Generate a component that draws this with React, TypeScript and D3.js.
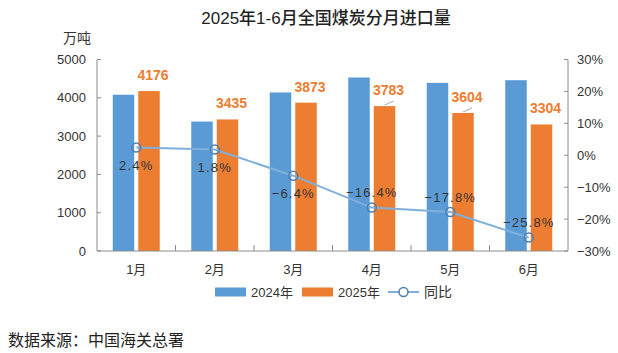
import * as d3 from 'd3';

const months = ['1月', '2月', '3月', '4月', '5月', '6月'];
const imports2024 = [4080, 3380, 4140, 4530, 4390, 4460];
const imports2025 = [4176, 3435, 3873, 3783, 3604, 3304];
const yoy = [2.4, 1.8, -6.4, -16.4, -17.8, -25.8];
const leftTicks = [0, 1000, 2000, 3000, 4000, 5000];
const rightTicks = [-30, -20, -10, 0, 10, 20, 30];
const seriesNames = ['2024年', '2025年'];

const W = 618;
const H = 353;
const BLUE = '#5b9bd5';
const ORANGE = '#ed7d31';
const LINE = '#7fb0dc';
const MARK = '#4f7fb0';
const AXIS = '#8c8c8c';
const FONT = '"Liberation Sans", "Noto Sans CJK SC", sans-serif';

// minus sign as in the original labels
const pct = (v: number) => `${v < 0 ? '−' : ''}${Math.abs(v)}%`;

export default function App() {
    const plot = { left: 97, right: 568, top: 59.5, bottom: 251 };

    const x = d3.scaleBand<string>().domain(months).range([plot.left, plot.right]).padding(0);
    const bw = x.bandwidth();
    const x1 = d3
        .scaleBand<string>()
        .domain(seriesNames)
        .range([bw / 2 - 23.5, bw / 2 + 23.5])
        .paddingInner(0.157);
    const y = d3.scaleLinear().domain([0, 5000]).range([plot.bottom, plot.top]);
    const y2 = d3.scaleLinear().domain([-30, 30]).range([plot.bottom, plot.top]);

    const cx = (m: string) => (x(m) ?? 0) + bw / 2;
    const line = d3
        .line<number>()
        .x((_, i) => cx(months[i]))
        .y((d) => y2(d));

    const series = [imports2024, imports2025];
    const colors = [BLUE, ORANGE];

    return (
        <svg
            width={W}
            height={H}
            style={{ position: 'absolute', left: 0, top: 0, background: '#fff' }}
            fontFamily={FONT}
        >
            <text x={326} y={24} textAnchor="middle" fontSize={17} fontWeight={500} fill="#222">
                2025年1-6月全国煤炭分月进口量
            </text>
            <text x={77} y={43} textAnchor="middle" fontSize={14} fill="#333">
                万吨
            </text>

            {/* bars */}
            {series.map((vals, si) =>
                vals.map((v, i) => (
                    <rect
                        key={`${si}-${i}`}
                        x={(x(months[i]) ?? 0) + (x1(seriesNames[si]) ?? 0)}
                        y={y(v)}
                        width={x1.bandwidth()}
                        height={plot.bottom - y(v)}
                        fill={colors[si]}
                    />
                )),
            )}

            {/* 2025 value labels */}
            {imports2025.map((v, i) => {
                const bx = (x(months[i]) ?? 0) + (x1(seriesNames[1]) ?? 0) + x1.bandwidth() / 2;
                return (
                    <g key={`l${i}`}>
                        {v < 3800 && v > 3500 && (
                            <line x1={bx} x2={bx + 9} y1={y(v) - 1} y2={y(v) - 5} stroke="#aaa" />
                        )}
                        <text x={bx + 4} y={y(v) - 11} textAnchor="middle" fontSize={14} fontWeight={700} fill={ORANGE}>
                            {v}
                        </text>
                    </g>
                );
            })}

            {/* axes */}
            <line x1={plot.left} x2={plot.left} y1={plot.top} y2={plot.bottom} stroke={AXIS} />
            <line x1={plot.right} x2={plot.right} y1={plot.top} y2={plot.bottom} stroke={AXIS} />
            <line x1={plot.left} x2={plot.right} y1={plot.bottom} y2={plot.bottom} stroke={AXIS} />
            {leftTicks.map((t) => (
                <g key={`lt${t}`}>
                    <line x1={plot.left} x2={plot.left + 4} y1={y(t)} y2={y(t)} stroke={AXIS} />
                    <text x={86} y={y(t)} dy="0.35em" textAnchor="end" fontSize={13} fill="#333">
                        {t}
                    </text>
                </g>
            ))}
            {rightTicks.map((t) => (
                <g key={`rt${t}`}>
                    <line x1={plot.right - 4} x2={plot.right} y1={y2(t)} y2={y2(t)} stroke={AXIS} />
                    <text x={577} y={y2(t)} dy="0.35em" fontSize={13} fill="#333">
                        {pct(t)}
                    </text>
                </g>
            ))}
            {months.slice(1).map((m) => (
                <line key={`xt${m}`} x1={x(m)} x2={x(m)} y1={plot.bottom - 6} y2={plot.bottom} stroke={AXIS} />
            ))}
            {months.map((m) => (
                <text key={`xl${m}`} x={cx(m)} y={269} dy="0.35em" textAnchor="middle" fontSize={13} fill="#333">
                    {m}
                </text>
            ))}

            {/* yoy line */}
            <path d={line(yoy) ?? ''} fill="none" stroke={LINE} strokeWidth={2} />
            {yoy.map((v, i) => (
                <circle key={`c${i}`} cx={cx(months[i])} cy={y2(v)} r={4.5} fill="none" stroke={MARK} strokeWidth={1.5} />
            ))}
            {yoy.map((v, i) => (
                <text
                    key={`yl${i}`}
                    x={cx(months[i])}
                    y={y2(v) + (v > -10 ? 18 : -15)}
                    dy="0.35em"
                    textAnchor="middle"
                    fontSize={13}
                    letterSpacing={1.2}
                    fill="#333"
                >
                    {pct(v)}
                </text>
            ))}

            {/* legend */}
            <g transform="translate(0,292)">
                <rect x={215} y={-4.5} width={31} height={9} fill={BLUE} />
                <text x={251} y={0} dy="0.35em" fontSize={13} fill="#333">
                    2024年
                </text>
                <rect x={302} y={-4.5} width={31} height={9} fill={ORANGE} />
                <text x={338} y={0} dy="0.35em" fontSize={13} fill="#333">
                    2025年
                </text>
                <line x1={388} x2={419} y1={0} y2={0} stroke={LINE} strokeWidth={2} />
                <circle cx={403.5} cy={0} r={4.5} fill="#fff" stroke={MARK} strokeWidth={1.5} />
                <text x={424} y={0} dy="0.35em" fontSize={14} fill="#333">
                    同比
                </text>
            </g>

            <text x={8} y={340} dy="0.35em" fontSize={16} fill="#222">
                数据来源：中国海关总署
            </text>
        </svg>
    );
}
